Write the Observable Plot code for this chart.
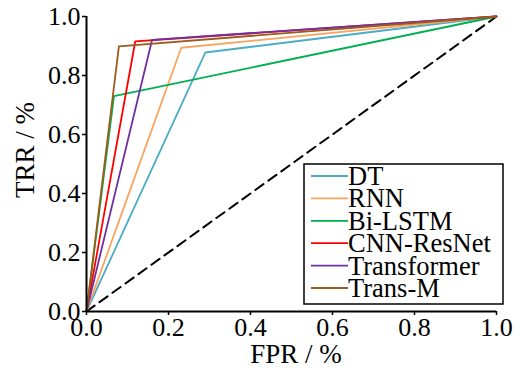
<!DOCTYPE html>
<html><head><meta charset="utf-8">
<script src="https://cdn.jsdelivr.net/npm/d3@7"></script>
<script src="https://cdn.jsdelivr.net/npm/@observablehq/plot@0.6"></script>
<style>
html,body{margin:0;padding:0;background:#fff;}
#chart{width:521px;height:374px;}
#chart svg text{font-family:"Liberation Serif",serif !important;}
</style></head>
<body><div id="chart"></div>
<script>
const models = ["DT", "RNN", "Bi-LSTM", "CNN-ResNet", "Transformer", "Trans-M"];
const colors = ["#4bacc6", "#f9a45e", "#00b050", "#ff0000", "#7030a0", "#9c5a1c"];
const cornerFPR = [0.29, 0.231, 0.067, 0.119, 0.160, 0.079];
const cornerTPR = [0.878, 0.894, 0.730, 0.916, 0.921, 0.899];
const ticks = [0, 0.2, 0.4, 0.6, 0.8, 1.0];
const chance = [{x: 0, y: 0}, {x: 1, y: 1}];

const rows = [];
models.forEach((m, i) => {
  rows.push({model: m, x: 0, y: 0});
  rows.push({model: m, x: cornerFPR[i], y: cornerTPR[i]});
  rows.push({model: m, x: 1, y: 1});
});

const plot = Plot.plot({
  width: 521,
  height: 374,
  marginLeft: 86,
  marginRight: 25,
  marginTop: 16,
  marginBottom: 63,
  style: "font-family: 'Liberation Serif', serif; font-size: 26px; background: #fff; color: #000;",
  x: {domain: [0, 1]},
  y: {domain: [0, 1]},
  color: {domain: models, range: colors},
  marks: [
    Plot.line(chance, {x: "x", y: "y", stroke: "#000", strokeWidth: 2, strokeDasharray: "10,6"}),
    Plot.line(rows, {x: "x", y: "y", z: "model", stroke: "model", strokeWidth: 1.8}),
    Plot.axisX({ticks, tickFormat: d3.format(".1f"), tickSize: 4, tickPadding: 2, label: null, fontSize: 26, strokeWidth: 1.5}),
    Plot.axisY({ticks, tickFormat: d3.format(".1f"), tickSize: 4, tickPadding: 2, label: null, fontSize: 26, strokeWidth: 1.5}),
    Plot.ruleY([0], {stroke: "#000", strokeWidth: 2}),
    Plot.ruleX([0], {stroke: "#000", strokeWidth: 2})
  ]
});
document.getElementById("chart").appendChild(plot);

const svg = d3.select(plot);
svg.append("text").attr("x", 296).attr("y", 363).attr("text-anchor", "middle")
  .attr("font-size", 27).attr("fill", "#000").text("FPR / %");
svg.append("text").attr("transform", "translate(34,150) rotate(-90)").attr("text-anchor", "middle")
  .attr("font-size", 27).attr("fill", "#000").text("TRR / %");

const lg = svg.append("g").attr("text-anchor", "start");
lg.append("rect").attr("x", 304).attr("y", 164).attr("width", 199).attr("height", 140)
  .attr("fill", "#fff").attr("stroke", "#000").attr("stroke-width", 1.5);
models.forEach((m, i) => {
  const y = 176 + i * 22.4;
  lg.append("line").attr("x1", 311).attr("x2", 348).attr("y1", y).attr("y2", y)
    .attr("stroke", colors[i]).attr("stroke-width", 1.8);
  lg.append("text").attr("x", 348).attr("y", y + 9).attr("text-anchor", "start")
    .attr("font-size", 26.5).attr("fill", "#000").text(m);
});
</script></body></html>
